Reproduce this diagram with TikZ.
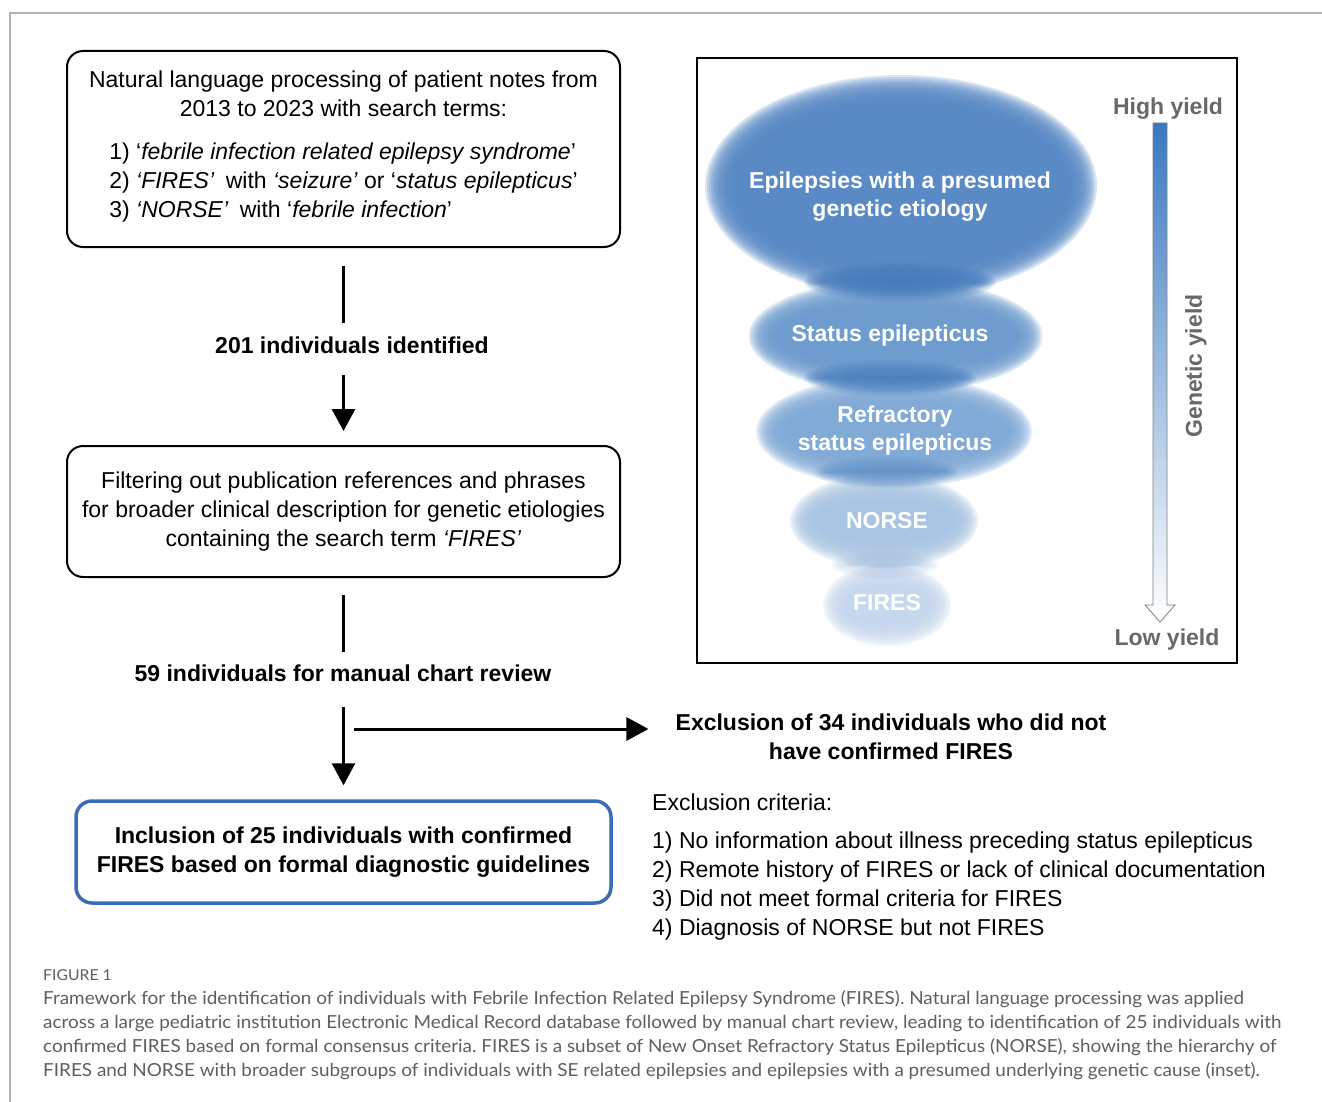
\documentclass[tikz,border=0pt]{standalone}
\usepackage{fontspec}
\setmainfont{Liberation Sans}
\newfontfamily\capfont[FakeStretch=1.05]{Lato}
\usetikzlibrary{arrows.meta}
\definecolor{capgray}{HTML}{5F5F5F}
\definecolor{framegray}{HTML}{B4B4B4}
\definecolor{yieldgray}{HTML}{68686C}
\definecolor{boxblue}{HTML}{3B6DB4}
\definecolor{bigblue}{HTML}{5789C5}
\definecolor{seblue}{HTML}{6C9BCE}
\definecolor{rseblue}{HTML}{80AAD7}
\definecolor{norseblue}{HTML}{A9C4E3}
\definecolor{firesblue}{HTML}{C6D8EE}
\definecolor{bandblue}{HTML}{3F77BA}
\definecolor{arrtop}{HTML}{3A78C0}
\newcommand\myblob[5]{\foreach \k in {0,...,13}{\fill[#5, fill opacity=0.22] (#1,#2) ellipse ({#3+12-2*\k} and {#4+12-2*\k});}}
\newcommand\myband[5]{\foreach \k in {0,...,8}{\fill[bandblue, fill opacity=#5] (#1,#2) ellipse ({#3+8-2*\k} and {#4+8-2*\k});}}
\tikzset{
  flowbox/.style={draw=black, line width=2pt, rounded corners=16pt, align=center, inner sep=0pt,
    font=\fontsize{23}{29}\selectfont},
  lbl/.style={font=\bfseries\fontsize{23}{29}\selectfont, inner sep=0pt, text height=17pt, text depth=5pt},
  mlbl/.style={font=\bfseries\fontsize{23}{29}\selectfont, inner sep=0pt, align=center},
  conn/.style={line width=3pt},
  arr/.style={line width=3pt, -{Triangle[length=22pt,width=23pt]}},
  blobtxt/.style={text=white, font=\bfseries\fontsize{23}{28}\selectfont, align=center, inner sep=0pt},
  yieldtxt/.style={text=yieldgray, font=\bfseries\fontsize{23}{28}\selectfont, inner sep=0pt}
}
\begin{document}
\begin{tikzpicture}[x=1pt,y=-1pt]
\useasboundingbox (0,0) rectangle (1322,1102);
\fill[white] (0,0) rectangle (1322,1102);
\draw[framegray, line width=1.3pt] (1322,13) -- (10,13) -- (10,1102);

% ---------- flow chart ----------
\node[flowbox, minimum width=553pt, minimum height=196pt] (box1) at (343.5,149) {%
Natural language processing of patient notes from\\
2013 to 2023 with search terms:\\[14pt]
\begin{tabular}[t]{@{}l@{}}
1) ‘\textit{febrile infection related epilepsy syndrome}’\\
2) \textit{‘FIRES’}\hspace{5pt} with \textit{‘seizure’} or ‘\textit{status epilepticus}’\\
3) \textit{‘NORSE’}\hspace{5pt} with ‘\textit{febrile infection}’
\end{tabular}};

\node[lbl] (n201) at (352,347.4) {201 individuals identified};

\node[flowbox, minimum width=553pt, minimum height=131pt] (box2) at (343.5,511.5) {%
Filtering out publication references and phrases\\
for broader clinical description for genetic etiologies\\
containing the search term \textit{‘FIRES’}};

\node[lbl] (n59) at (343,675.4) {59 individuals for manual chart review};

\node[flowbox, draw=boxblue, line width=3.5pt, minimum width=535pt, minimum height=102pt,
  font=\bfseries\fontsize{23}{29}\selectfont] (box3) at (343.5,852) {%
\raisebox{-3pt}{\begin{tabular}{@{}c@{}}Inclusion of 25 individuals with confirmed\\
FIRES based on formal diagnostic guidelines\end{tabular}}};

\node[mlbl] (excl) at (891,736.5) {Exclusion of 34 individuals who did not\\have confirmed FIRES};

\node[anchor=north west, inner sep=0pt, font=\fontsize{23}{29}\selectfont] (crit) at (652,790) {%
\begin{tabular}{@{}l@{}}
Exclusion criteria:\\[9pt]
1) No information about illness preceding status epilepticus\\
2) Remote history of FIRES or lack of clinical documentation\\
3) Did not meet formal criteria for FIRES\\
4) Diagnosis of NORSE but not FIRES
\end{tabular}};

\draw[conn, shorten <=18pt, shorten >=13.4pt] (box1.south) -- (box1.south |- n201.north);
\draw[arr, shorten <=16.6pt, shorten >=14pt] (box2.north |- n201.south) -- (box2.north);
\draw[conn, shorten <=17pt, shorten >=12.4pt] (box2.south) -- (box2.south |- n59.north);
\draw[arr, shorten <=20.6pt, shorten >=14pt] (box3.north |- n59.south) -- (box3.north);
\coordinate (split) at (354,729);
\draw[arr, shorten >=27pt] (split) -- (split -| excl.west);

% ---------- inset ----------
\node[draw=black, line width=1.5pt, minimum width=540pt, minimum height=605pt, inner sep=0pt] (inset) at (967,360.5) {};

\myblob{887}{605}{52}{29}{firesblue}
\myblob{884}{521}{82}{35}{norseblue}
\myblob{894}{431.5}{126}{44}{rseblue}
\myblob{895.5}{336}{135}{45}{seblue}
\myblob{901}{186}{184}{99}{bigblue}
\myband{900}{282}{88}{12}{0.13}
\myband{890}{378}{78}{10}{0.12}
\myband{886}{472}{64}{8}{0.07}
\myband{885}{565}{46}{6}{0.03}

\node[blobtxt] (tgen) at (900,197) {Epilepsies with a presumed\\genetic etiology};
\node[blobtxt] (tse) at (890,336) {Status epilepticus};
\node[blobtxt] (trse) at (895,431) {Refractory\\status epilepticus};
\node[blobtxt] (tnorse) at (887,521) {NORSE};
\node[blobtxt] (tfires) at (887,603) {FIRES};

\shade[top color=arrtop, bottom color=white, draw=gray, line width=0.8pt]
  (1153,123) -- (1167,123) -- (1167,605) -- (1175,605) -- (1160,622) -- (1145,605) -- (1153,605) -- cycle;
\node[yieldtxt] (high) at (1168,109) {High yield};
\node[yieldtxt] (low) at (1167,640) {Low yield};
\node[yieldtxt, rotate=90] (gen) at (1196,366) {Genetic yield};

% ---------- caption ----------
\node[anchor=west, inner sep=0pt, text=capgray, font=\capfont\fontsize{15}{17}\selectfont] (fig) at (43,975) {FIGURE 1};
\node[anchor=north west, inner sep=0pt, align=left, text=capgray, font=\capfont\frenchspacing\fontsize{18}{24}\selectfont] (cap) at (43,990) {%
Framework for the identification of individuals with Febrile Infection Related Epilepsy Syndrome (FIRES). Natural language processing was applied\\
across a large pediatric institution Electronic Medical Record database followed by manual chart review, leading to identification of 25 individuals with\\
confirmed FIRES based on formal consensus criteria. FIRES is a subset of New Onset Refractory Status Epilepticus (NORSE), showing the hierarchy of\\
FIRES and NORSE with broader subgroups of individuals with SE related epilepsies and epilepsies with a presumed underlying genetic cause (inset).};
\end{tikzpicture}
\end{document}
